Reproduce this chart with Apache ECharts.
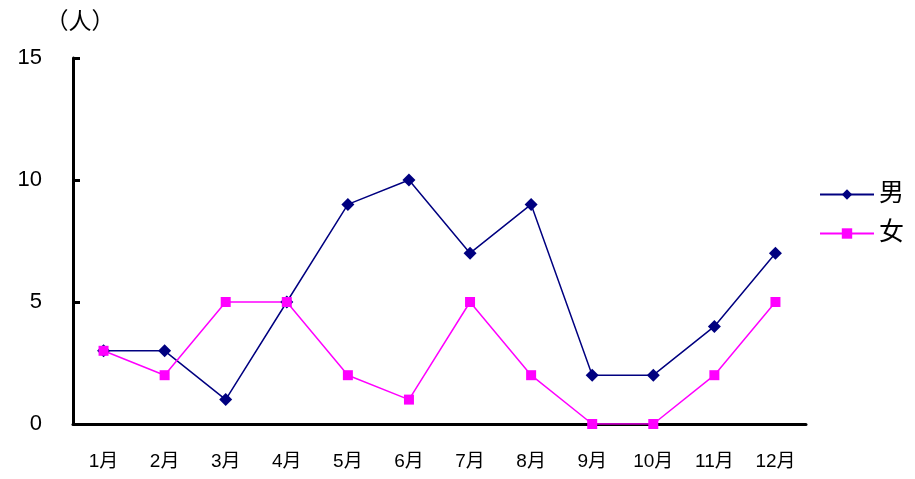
<!DOCTYPE html>
<html lang="zh">
  <head>
    <meta charset="UTF-8" />
    <title>chart</title>
    <style>
      html, body { margin: 0; padding: 0; background: #fff; }
      .box { width: 915px; height: 479px; }
    </style>
  </head>
  <body>
    <div class="box"></div>
    <script src="https://cdn.jsdelivr.net/npm/echarts@6/dist/echarts.min.js"></script>
    <script>
      var months = ['1月', '2月', '3月', '4月', '5月', '6月', '7月', '8月', '9月', '10月', '11月', '12月'];
      var male = [3, 3, 1, 5, 9, 10, 7, 9, 2, 2, 4, 7];
      var female = [3, 2, 5, 5, 2, 1, 5, 2, 0, 0, 2, 5];

      var font = '"Liberation Sans", Arial, "Noto Sans CJK SC", sans-serif';
      var myChart = echarts.init(document.querySelector('.box'));

      var option = {
        animation: false,
        textStyle: { fontFamily: font, color: '#000' },
        grid: { left: 73, right: 109, top: 58, bottom: 55 },
        legend: {
          orient: 'vertical',
          left: 814,
          top: 177,
          itemGap: 14,
          itemWidth: 54,
          itemHeight: 13,
          textStyle: { fontSize: 25, color: '#000', fontFamily: font },
          data: ['男', '女']
        },
        xAxis: {
          type: 'category',
          data: months,
          boundaryGap: true,
          axisLine: { lineStyle: { color: '#000', width: 3 } },
          axisTick: { inside: true, length: 7, lineStyle: { color: '#000', width: 3 } },
          axisLabel: { fontSize: 19, color: '#000', margin: 28 }
        },
        yAxis: {
          type: 'value',
          min: 0,
          max: 15,
          interval: 5,
          name: '（人）',
          nameLocation: 'end',
          nameGap: 24,
          nameTextStyle: { fontSize: 23, color: '#000', align: 'center', padding: [0, 0, 0, 14] },
          splitLine: { show: false },
          axisLine: { show: true, lineStyle: { color: '#000', width: 3 } },
          axisTick: { show: true, inside: true, length: 7, lineStyle: { color: '#000', width: 3 } },
          axisLabel: { fontSize: 22, color: '#000', margin: 31 }
        },
        series: [
          {
            name: '男',
            type: 'line',
            data: male,
            symbol: 'diamond',
            symbolSize: 13,
            color: '#000080',
            lineStyle: { width: 1.5, color: '#000080' },
            itemStyle: { color: '#000080' }
          },
          {
            name: '女',
            type: 'line',
            data: female,
            symbol: 'rect',
            symbolSize: 10,
            color: '#ff00ff',
            lineStyle: { width: 1.5, color: '#ff00ff' },
            itemStyle: { color: '#ff00ff' }
          }
        ]
      };
      myChart.setOption(option);
    </script>
  </body>
</html>
